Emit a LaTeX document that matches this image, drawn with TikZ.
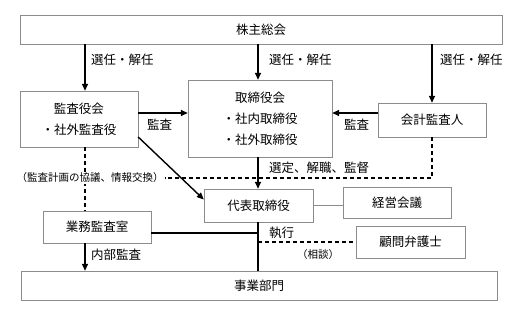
\documentclass[tikz,border=0pt]{standalone}
\usepackage{fontspec}
\setmainfont{Noto Sans CJK JP}
\usetikzlibrary{arrows.meta}

\begin{document}
\begin{tikzpicture}[
        x=1pt, y=-1pt,
        box/.style={
            draw=black!45,
            fill=white,
            inner sep=0pt,
            align=center
        },
        rel/.style={line width=1.4pt},
        arr/.style={rel, -{Triangle[length=7pt,width=6pt]}},
        cons/.style={line width=1.4pt, dash pattern=on 4pt off 3pt},
        lbl/.style={anchor=west, inner sep=0pt},
        every node/.style={font=\fontsize{12.5}{21}\selectfont}
    ]

    \useasboundingbox[fill=white] (0,0) rectangle (514,316);

    \coordinate (leftline) at (85,0);
    \coordinate (midline) at (258,0);
    \coordinate (auditrow) at (0,113);
    \coordinate (execrow) at (0,233);

    \node[box, minimum width=482pt, minimum height=29pt] (meeting) at (261,29.5) {株主総会};
    \node[box, minimum width=118pt, minimum height=56pt] (auditors) at (79,119) {監査役会\\・社外監査役};
    \node[box, minimum width=144pt, minimum height=77pt] (board) at (260,118.5) {取締役会\\・社内取締役\\・社外取締役};
    \node[box, minimum width=108pt, minimum height=34pt] (accountant) at (432,120) {会計監査人};
    \node[box, minimum width=109pt, minimum height=33pt] (ceo) at (258.5,205.5) {代表取締役};
    \node[box, minimum width=108pt, minimum height=31pt] (mgmt) at (397,202.5) {経営会議};
    \node[box, minimum width=108pt, minimum height=32pt] (internal) at (97,227) {業務監査室};
    \node[box, minimum width=109pt, minimum height=32pt] (lawyer) at (410.5,242) {顧問弁護士};
    \node[box, minimum width=476pt, minimum height=29pt] (units) at (259,285.5) {事業部門};

    % appointment from the meeting
    \draw[arr] (leftline |- meeting.south) -- (leftline |- auditors.north);
    \draw[arr] (midline |- meeting.south) -- (midline |- board.north);
    \draw[arr] (accountant |- meeting.south) -- (accountant.north);
    \node[lbl] (elect1) at (91,60) {選任・解任};
    \node[lbl] (elect2) at (269,60) {選任・解任};
    \node[lbl] (elect3) at (440,60) {選任・解任};

    % audits of the board
    \draw[arr] (auditors.east |- auditrow) -- (board.west |- auditrow);
    \draw[arr] (accountant.west |- auditrow) -- (board.east |- auditrow);
    \node[lbl] (audit1) at (147,125) {監査};
    \node[lbl] (audit2) at (344,125) {監査};

    % cooperation of the auditors
    \draw[cons] (leftline |- auditors.south) -- (leftline |- internal.north);
    \node[fill=white, inner sep=1pt, font=\fontsize{10.5}{12}\selectfont] (exchange) at (90,178)
        {（監査計画の協議、情報交換）};
    \draw[cons] (accountant.south) -- (accountant.south |- exchange) -- (exchange.east);

    \draw[arr] ([yshift=-18pt]auditors.east) -- ([yshift=6pt]ceo.west);
    \draw[arr] (midline |- board.south) -- (midline |- ceo.north);
    \node[lbl] (supervise) at (269,168) {選定、解職、監督};

    % execution
    \draw[draw=black!45] (ceo.east) -- (ceo.east -| mgmt.west);
    \draw[rel] (midline |- ceo.south) -- (midline |- units.north);
    \draw[rel] (internal.east |- execrow) -- (midline |- execrow);
    \node[lbl] (exec) at (269,233) {執行};
    \draw[cons] (midline |- lawyer.west) -- (lawyer.west);
    \node[lbl, font=\fontsize{10.5}{12}\selectfont] (consult) at (297,255) {（相談）};

    \draw[arr] (leftline |- internal.south) -- (leftline |- units.north);
    \node[lbl] (inaudit) at (91,255) {内部監査};

\end{tikzpicture}
\end{document}
